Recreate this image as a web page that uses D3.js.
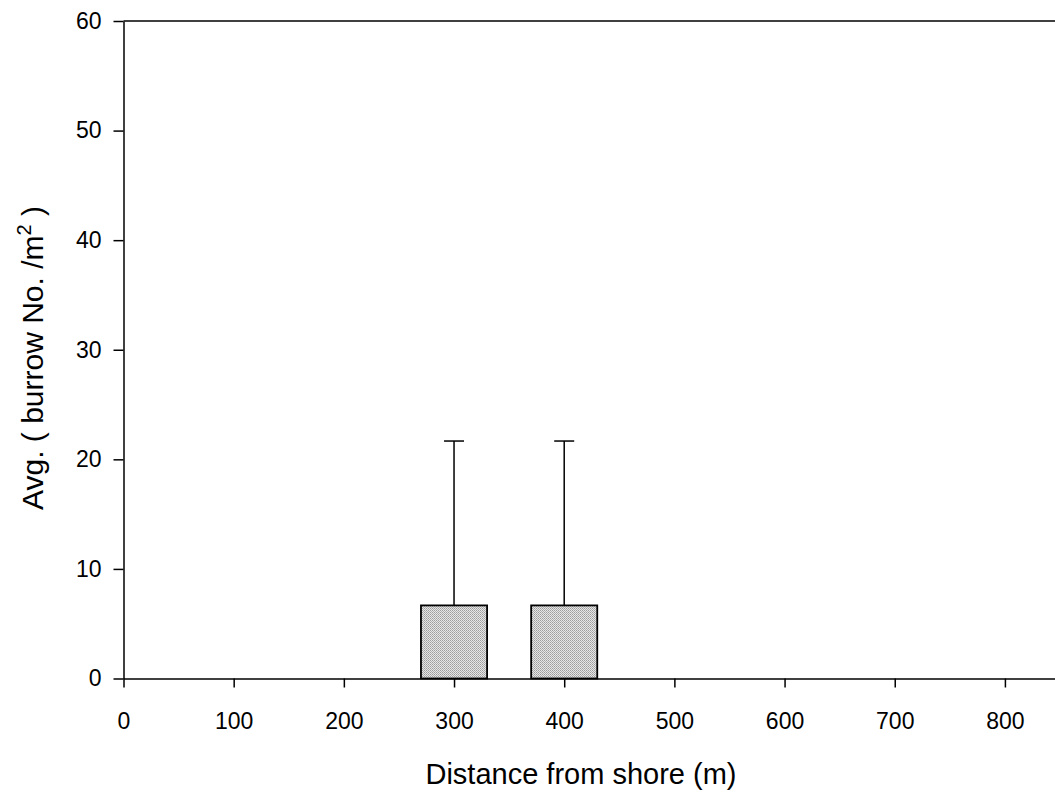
<!DOCTYPE html>
<html>
<head>
<meta charset="utf-8">
<script src="https://cdn.jsdelivr.net/npm/d3@7"></script>
<style>
  html, body { margin: 0; padding: 0; background: #fff; }
  svg { display: block; font-family: "Liberation Sans", Arial, sans-serif; }
</style>
</head>
<body>
<svg id="chart" width="1055" height="796"></svg>
<script>
// ---- data ----
const distances = [0, 100, 200, 300, 400, 500, 600, 700, 800];
const avgValues = [0, 0, 0, 6.67, 6.67, 0, 0, 0, 0];
const errValues = [0, 0, 0, 15.0, 15.0, 0, 0, 0, 0];
const xTicks = [0, 100, 200, 300, 400, 500, 600, 700, 800];
const yTicks = [0, 10, 20, 30, 40, 50, 60];
const barWidthUnits = 60;

const svg = d3.select("#chart");
const mLeft = 123.5, mRight = 1060, mTop = 21, mBottom = 678.5;

const x = d3.scaleLinear().domain([0, 850]).range([mLeft, mRight]);
const y = d3.scaleLinear().domain([0, 60]).range([mBottom, mTop]);

// pattern fill (dithered grey)
const defs = svg.append("defs");
const pat = defs.append("pattern").attr("id", "dots")
  .attr("width", 2).attr("height", 2).attr("patternUnits", "userSpaceOnUse");
pat.append("rect").attr("width", 2).attr("height", 2).attr("fill", "#e6e6e6");
pat.append("rect").attr("x", 0).attr("y", 0).attr("width", 1).attr("height", 1).attr("fill", "#9c9c9c");
pat.append("rect").attr("x", 1).attr("y", 1).attr("width", 1).attr("height", 1).attr("fill", "#b0b0b0");

const data = distances.map((d, i) => ({ d, v: avgValues[i], e: errValues[i] }));

// bars
svg.append("g").selectAll("rect").data(data.filter(r => r.v > 0)).join("rect")
  .attr("x", r => x(r.d - barWidthUnits / 2))
  .attr("y", r => y(r.v))
  .attr("width", r => x(r.d + barWidthUnits / 2) - x(r.d - barWidthUnits / 2))
  .attr("height", r => y(0) - y(r.v))
  .attr("fill", "url(#dots)")
  .attr("stroke", "#000").attr("stroke-width", 1.8);

// error bars (upper only)
const eb = svg.append("g").attr("stroke", "#000").attr("stroke-width", 1.5);
data.filter(r => r.e > 0).forEach(r => {
  eb.append("line").attr("x1", x(r.d)).attr("x2", x(r.d))
    .attr("y1", y(r.v)).attr("y2", y(r.v + r.e));
  eb.append("line").attr("x1", x(r.d) - 10).attr("x2", x(r.d) + 10)
    .attr("y1", y(r.v + r.e)).attr("y2", y(r.v + r.e));
});

// top frame line
svg.append("line").attr("x1", mLeft).attr("x2", mRight)
  .attr("y1", mTop).attr("y2", mTop).attr("stroke", "#000").attr("stroke-width", 1.5);

// axes
const xAxis = d3.axisBottom(x).tickValues(xTicks).tickSize(9).tickPadding(25).tickSizeOuter(0);
const gx = svg.append("g").attr("transform", `translate(0,${mBottom})`).call(xAxis);
gx.select(".domain").attr("stroke-width", 1.5);
gx.selectAll(".tick line").attr("stroke-width", 1.5);
gx.selectAll("text").attr("font-size", 23).attr("fill", "#000")
  .attr("font-family", "Liberation Sans, Arial, sans-serif");

const yAxis = d3.axisLeft(y).tickValues(yTicks).tickSize(10).tickPadding(12).tickSizeOuter(0);
const gy = svg.append("g").attr("transform", `translate(${mLeft},0)`).call(yAxis);
gy.select(".domain").attr("stroke-width", 1.5);
gy.selectAll(".tick line").attr("stroke-width", 1.5);
gy.selectAll("text").attr("font-size", 23).attr("fill", "#000")
  .attr("font-family", "Liberation Sans, Arial, sans-serif");

// axis titles
svg.append("text").attr("x", 581).attr("y", 784).attr("text-anchor", "middle")
  .attr("font-size", 29).attr("fill", "#000").text("Distance from shore (m)");

const yt = svg.append("text").attr("transform", "translate(43,358) rotate(-90)")
  .attr("text-anchor", "middle").attr("font-size", 30).attr("fill", "#000");
yt.append("tspan").text("Avg. ( burrow No. /m");
yt.append("tspan").attr("dy", -12).attr("font-size", 20).text("2");
yt.append("tspan").attr("dy", 12).text(" )");
</script>
</body>
</html>
